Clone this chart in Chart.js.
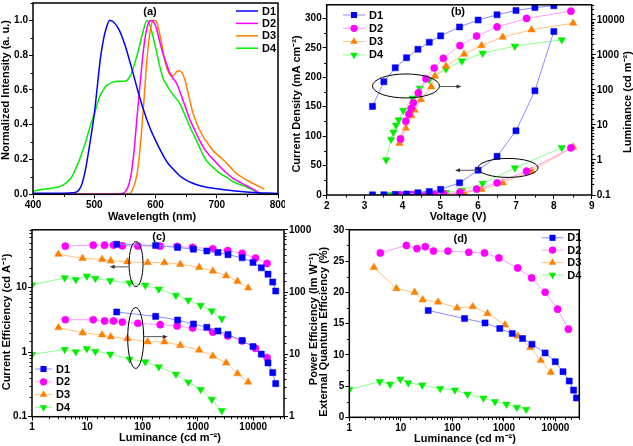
<!DOCTYPE html>
<html>
<head>
<meta charset="utf-8">
<script src="https://cdn.jsdelivr.net/npm/chart.js@4.4.1/dist/chart.umd.min.js"></script>
<style>
  html, body { margin: 0; padding: 0; background: #fff; }
  body { position: relative; width: 633px; height: 446px; overflow: hidden; }
  canvas { position: absolute; }
</style>
</head>
<body>
<canvas id="graficaA" width="285" height="225" style="left:0px;top:0px"></canvas>
<canvas id="graficaB" width="353" height="225" style="left:280px;top:0px"></canvas>
<canvas id="graficaC" width="322" height="221" style="left:0px;top:225px"></canvas>
<canvas id="graficaD" width="318" height="221" style="left:315px;top:225px"></canvas>
<script>
// ---- (a) espectros EL normalizados ----
const wlD1 = [400,420,440,460,470,475,480,485,490,495,500,505,510,515,520,525,530,540,550,560,570,580,590,600,610,620,630,640,650,660,670,680,690,700,720,740,760,780,800];
const intD1 = [0.006,0.006,0.006,0.008,0.012,0.025,0.06,0.13,0.23,0.34,0.46,0.62,0.78,0.89,0.96,1.0,0.995,0.95,0.86,0.74,0.61,0.49,0.39,0.31,0.24,0.18,0.14,0.105,0.082,0.065,0.052,0.043,0.037,0.032,0.023,0.016,0.011,0.007,0.005];
const wlD2 = [400,500,540,545,550,555,560,565,570,575,580,585,590,593,597,601,606,612,618,623,628,634,640,645,650,656,664,672,680,689,697,705,715,727,735,743,751,759,765,770,775];
const intD2 = [0,0,0,0.005,0.012,0.04,0.11,0.25,0.45,0.64,0.82,0.94,0.995,1.0,0.99,0.96,0.89,0.81,0.75,0.70,0.67,0.64,0.59,0.54,0.49,0.43,0.37,0.31,0.26,0.22,0.19,0.16,0.125,0.09,0.075,0.06,0.045,0.03,0.018,0.008,0.003];
const wlD3 = [400,550,558,563,569,573,577,581,585,589,593,596,600,603,607,611,615,619,623,627,631,635,639,643,648,652,656,661,667,672,678,686,694,702,710,720,732,743,754,765,778];
const intD3 = [0,0,0.003,0.03,0.10,0.2,0.35,0.53,0.73,0.88,0.97,1.0,1.0,0.98,0.92,0.85,0.77,0.72,0.69,0.68,0.69,0.705,0.71,0.7,0.66,0.6,0.54,0.47,0.41,0.37,0.33,0.29,0.25,0.225,0.2,0.165,0.12,0.095,0.072,0.052,0.03];
const wlD4 = [400,410,420,430,440,450,460,465,470,475,480,485,490,495,500,505,510,515,520,530,540,550,555,560,565,570,575,580,586,590,595,601,606,612,618,623,628,634,640,645,650,656,664,672,680,689,697,705,715,727,735,743,751,759,765,770,780];
const intD4 = [0.018,0.025,0.03,0.035,0.04,0.055,0.085,0.11,0.15,0.19,0.24,0.29,0.35,0.41,0.46,0.52,0.57,0.6,0.625,0.645,0.65,0.65,0.66,0.69,0.74,0.8,0.87,0.94,1.0,0.98,0.92,0.83,0.75,0.67,0.63,0.6,0.575,0.55,0.52,0.48,0.44,0.39,0.33,0.27,0.21,0.17,0.145,0.12,0.1,0.072,0.06,0.05,0.038,0.025,0.012,0.005,0.002];

// ---- (b) J-V-L ----
const vD1 = [3.21,3.51,3.81,4.11,4.41,4.71,5.01,5.51,6.0,6.5,7.0,7.5,8.0];
const jD1 = [0.2,0.5,1,1.7,3.9,6,9.5,20.7,42,65.6,109,177,277.6];
const vD2 = [3.95,4.09,4.17,4.23,4.29,4.42,4.62,4.84,5.08,5.52,5.96,6.5,7.28,8.45];
const jD2 = [0.1,0.15,0.2,0.25,0.3,0.5,0.8,1.2,2,4.5,10,20.7,40.4,80];
const vD3 = [3.92,4.09,4.24,4.32,4.49,4.76,4.86,5.15,5.63,6.09,6.65,7.41,8.51];
const jD3 = [0.1,0.15,0.2,0.25,0.35,0.5,0.7,1.5,3.9,9.5,20.7,40.9,81.3];
const vD4 = [3.57,3.70,3.76,3.83,3.90,4.02,4.27,4.46,4.71,5.15,5.57,6.12,6.97,8.21];
const jD4 = [0.1,0.15,0.2,0.25,0.3,0.4,0.8,1.2,2,4,8,19.6,46,80.5];

// luminancia de cada dispositivo (cd m-2), la misma en (b), (c) y (d)
const lumD1 = [34,172,430,830,1450,2300,3500,6300,9900,14000,18500,22500,25500];
const lumD2 = [4,12.8,20.5,29.8,43,82,208,420,800,1850,3450,6300,11000,17800];
const lumD3 = [3,8.2,18.5,26.5,53,123,248,480,1050,1860,3240,5200,8100];
const lumD4 = [1,3.9,6.2,9.8,14,26,58,112,196,400,670,1120,1780,2700];

// ---- (c) eficiencia de corriente (cd A-1) y de potencia (lm W-1) ----
const ceD1 = [47,45,42,39.5,37,35,32.5,29,24.6,20.3,16.2,12.2,8.85];
const ceD2 = [44,45.5,45.5,45.5,44.4,44.2,44,43.5,42,40,37.5,34,28.7,23.7];
const ceD3 = [33,28.5,27.5,26,25.2,24.5,24.4,23,20.6,18.1,15.3,12.5,9.9];
const ceD4 = [11,14.2,13.3,15.1,13.9,12.8,11.8,10.9,9.5,7.6,6.4,5.3,4.35,3.3];
const peD1 = [47.9,40.8,35.6,30.8,27.2,23.8,20.8,16.7,13.4,10.1,7.3,5.1,3.4];
const peD2 = [36,36,34.4,34.4,33,31.6,30,28.6,26.5,22.8,19.8,16.5,12.5,8.9];
const peD3 = [26.9,22.2,20.6,19.2,17.9,15.9,15.9,14.0,11.7,9.4,7.3,4.9,3.6];
const peD4 = [10,12,11,12.4,11.2,10.1,8.4,7.6,6.3,4.8,3.6,2.74,1.9,1.25];

// ---- (d) EQE (%) ----
const eqeD1 = [17.1,15.8,15.1,14.2,13.4,12.6,11.7,10.3,8.9,7.3,5.8,4.35,3.1];
const eqeD2 = [26.3,27.5,27.0,27.3,26.6,26.6,26.4,26.3,25.5,23.9,22.3,20.0,17.3,14.1];
const eqeD3 = [24.0,20.6,20.0,18.8,18.45,17.5,17.7,16.6,14.8,13.0,11.2,9.1,7.2];
const eqeD4 = [4.47,5.7,5.3,6.1,5.5,5.15,4.6,4.36,3.7,3.08,2.5,2.1,1.6,1.28];

const etiquetas = ['D1','D2','D3','D4'];

const FONT = '"Liberation Sans", Arial, Helvetica, sans-serif';
Chart.defaults.font.family = FONT;
Chart.defaults.font.size = 10;
Chart.defaults.font.weight = 'bold';
Chart.defaults.color = '#000';

const fuerte = ['#0000ff', '#ff00ff', '#ff8000', '#00ee00'];
const suave = ['#8c8cff', '#ff9cff', '#ffc080', '#8cff8c'];
const forma = [
  { s: 'rect', r: 4.3, rot: 0 },
  { s: 'circle', r: 3.6, rot: 0 },
  { s: 'triangle', r: 4.3, rot: 0 },
  { s: 'triangle', r: 4.3, rot: 180 }
];

const pts = (xs, ys) => xs.map((x, i) => ({ x: x, y: ys[i] }));

function serie(i, data, eje) {
  return {
    label: etiquetas[i], data: data, yAxisID: eje,
    borderColor: suave[i], borderWidth: 1, tension: 0,
    pointStyle: forma[i].s, pointRadius: forma[i].r, pointRotation: forma[i].rot,
    pointBackgroundColor: fuerte[i], pointBorderColor: fuerte[i], pointBorderWidth: 0.5
  };
}

// ancho / alto fijo de cada eje para que el area del grafico caiga donde en la figura
const ancho = w => s => { s.width = w; s.paddingLeft = s.paddingRight = s.paddingTop = s.paddingBottom = 0; };
const alto = h => s => { s.height = h; s.paddingLeft = s.paddingRight = s.paddingTop = s.paddingBottom = 0; };
// marcas largas solo donde hay etiqueta; las cortas las pinta el plugin
const rejilla = () => ({
  drawOnChartArea: false, drawTicks: true, tickLength: 4, tickWidth: 1,
  tickColor: c => (c.tick && c.tick.label === '') ? 'rgba(0,0,0,0)' : '#000'
});
const potencia10 = v => {
  const e = Math.log10(v);
  return Math.abs(e - Math.round(e)) < 1e-6 ? String(+v.toPrecision(6)) : '';
};

function marcador(ctx, f, x, y) {
  ctx.beginPath();
  if (f.s === 'rect') {
    const h = f.r * Math.SQRT1_2;
    ctx.rect(x - h, y - h, 2 * h, 2 * h);
  } else if (f.s === 'circle') {
    ctx.arc(x, y, f.r, 0, 2 * Math.PI);
  } else {
    let a = f.rot * Math.PI / 180;
    ctx.moveTo(x + Math.sin(a) * f.r, y - Math.cos(a) * f.r);
    a += 2 * Math.PI / 3;
    ctx.lineTo(x + Math.sin(a) * f.r, y - Math.cos(a) * f.r);
    a += 2 * Math.PI / 3;
    ctx.lineTo(x + Math.sin(a) * f.r, y - Math.cos(a) * f.r);
    ctx.closePath();
  }
  ctx.fill();
}

// marco, marcas menores, titulos, elipses, flechas y leyenda
const adornos = {
  id: 'adornos',
  afterDatasetsDraw(chart, args, o) {
    const ctx = chart.ctx, a = chart.chartArea, X = chart.scales.x;
    ctx.save();
    ctx.strokeStyle = '#000';
    ctx.lineWidth = 1;
    Object.values(chart.scales).forEach(s => {
      s.ticks.forEach(t => {
        if (t.label !== '') return;
        const p = Math.round(s.getPixelForValue(t.value)) + 0.5;
        ctx.beginPath();
        if (s.axis === 'x') { ctx.moveTo(p, a.bottom); ctx.lineTo(p, a.bottom + 2.5); }
        else if (s.position === 'left') { ctx.moveTo(a.left, p); ctx.lineTo(a.left - 2.5, p); }
        else { ctx.moveTo(a.right, p); ctx.lineTo(a.right + 2.5, p); }
        ctx.stroke();
      });
    });
    ctx.lineWidth = 1.5;
    ctx.strokeRect(a.left, a.top, a.right - a.left, a.bottom - a.top);

    (o.elipses || []).forEach(e => {
      const Y = chart.scales[e.eje];
      ctx.beginPath();
      ctx.lineWidth = 1;
      ctx.strokeStyle = '#000';
      ctx.ellipse(X.getPixelForValue(e.x), Y.getPixelForValue(e.y), e.rx, e.ry, 0, 0, 2 * Math.PI);
      ctx.stroke();
    });
    (o.flechas || []).forEach(f => {
      const Y = chart.scales[f.eje];
      const x1 = X.getPixelForValue(f.x1), x2 = X.getPixelForValue(f.x2), y = Y.getPixelForValue(f.y);
      const d = Math.sign(x2 - x1);
      ctx.strokeStyle = '#555';
      ctx.fillStyle = '#333';
      ctx.lineWidth = 1;
      ctx.beginPath(); ctx.moveTo(x1, y); ctx.lineTo(x2 - 3 * d, y); ctx.stroke();
      ctx.beginPath(); ctx.moveTo(x2, y); ctx.lineTo(x2 - 5 * d, y - 2); ctx.lineTo(x2 - 5 * d, y + 2); ctx.closePath(); ctx.fill();
    });

    ctx.fillStyle = '#000';
    ctx.textAlign = 'center';
    ctx.textBaseline = 'middle';
    (o.textos || []).forEach(t => {
      ctx.save();
      ctx.translate(t.x, t.y);
      ctx.rotate((t.rot || 0) * Math.PI / 180);
      ctx.font = 'bold ' + (t.size || 11) + 'px ' + FONT;
      ctx.fillText(t.t, 0, 0);
      ctx.restore();
    });

    const g = o.leyenda;
    if (g) {
      ctx.font = 'bold 11px ' + FONT;
      ctx.textAlign = 'left';
      for (let i = 0; i < 4; i++) {
        const ds = chart.data.datasets[i];
        const y = g.y + i * g.fila;
        ctx.strokeStyle = ds.borderColor;
        ctx.lineWidth = ds.borderWidth;
        ctx.beginPath(); ctx.moveTo(g.x, y); ctx.lineTo(g.x + g.largo, y); ctx.stroke();
        if (ds.pointRadius > 0) {
          ctx.fillStyle = fuerte[i];
          marcador(ctx, forma[i], g.x + g.largo / 2, y);
        }
        ctx.fillStyle = '#000';
        ctx.fillText(ds.label, g.x + g.largo + 4, y + 0.5);
      }
    }
    ctx.restore();
  }
};

const base = { responsive: false, animation: false, events: [] };

// (a)
new Chart(document.getElementById('graficaA'), {
  type: 'line',
  data: {
    datasets: [
      { label: 'D1', data: pts(wlD1, intD1) },
      { label: 'D2', data: pts(wlD2, intD2) },
      { label: 'D3', data: pts(wlD3, intD3) },
      { label: 'D4', data: pts(wlD4, intD4) }
    ].map((d, i) => Object.assign(d, {
      borderColor: fuerte[i], borderWidth: 1.5, pointRadius: 0, cubicInterpolationMode: 'monotone'
    }))
  },
  options: Object.assign({}, base, {
    layout: { padding: { left: 0, right: 7, top: 3, bottom: 0 } },
    plugins: {
      legend: { display: false }, tooltip: { enabled: false },
      adornos: {
        textos: [
          { t: '(a)', x: 150, y: 11.5 },
          { t: 'Normalized Intensity (a. u.)', x: 6, y: 90, rot: -90 },
          { t: 'Wavelength (nm)', x: 152, y: 216.5 }
        ],
        leyenda: { x: 236, y: 11, fila: 12.4, largo: 22 }
      }
    },
    scales: {
      x: { type: 'linear', min: 400, max: 800, afterFit: alto(30.7), grid: rejilla(), border: { display: false },
           ticks: { stepSize: 50, maxTicksLimit: 100, autoSkip: false, maxRotation: 0, padding: 1,
                    callback: v => v % 100 === 0 ? v : '' } },
      y: { type: 'linear', min: 0, max: 1.1, afterFit: ancho(33), grid: rejilla(), border: { display: false },
           ticks: { stepSize: 0.1, maxTicksLimit: 100, autoSkip: false, padding: 1,
                    callback: v => Math.round(v * 10) % 2 === 0 ? v.toFixed(1) : '' } }
    }
  }),
  plugins: [adornos]
});

// (b)
new Chart(document.getElementById('graficaB'), {
  type: 'line',
  data: {
    datasets: [
      serie(0, pts(vD1, jD1), 'y'), serie(1, pts(vD2, jD2), 'y'),
      serie(2, pts(vD3, jD3), 'y'), serie(3, pts(vD4, jD4), 'y'),
      serie(0, pts(vD1, lumD1), 'y1'), serie(1, pts(vD2, lumD2), 'y1'),
      serie(2, pts(vD3, lumD3), 'y1'), serie(3, pts(vD4, lumD4), 'y1')
    ]
  },
  options: Object.assign({}, base, {
    layout: { padding: { left: 0, right: 0, top: 3, bottom: 0 } },
    plugins: {
      legend: { display: false }, tooltip: { enabled: false },
      adornos: {
        textos: [
          { t: '(b)', x: 178, y: 11.7 },
          { t: 'Current Density (mA cm\u207B\u00B2)', x: 16.7, y: 104, rot: -90 },
          { t: 'Luminance (cd m\u207B\u00B2)', x: 348, y: 102, rot: -90 },
          { t: 'Voltage (V)', x: 178, y: 216.5 }
        ],
        leyenda: { x: 63, y: 15, fila: 13.3, largo: 22 },
        elipses: [
          { x: 4.095, y: 130, eje: 'y1', rx: 33.5, ry: 12 },
          { x: 6.79, y: 46, eje: 'y', rx: 30, ry: 9.5 }
        ],
        flechas: [
          { x1: 4.98, x2: 5.56, y: 125, eje: 'y1' },
          { x1: 6.0, x2: 5.39, y: 42, eje: 'y' }
        ]
      }
    },
    scales: {
      x: { type: 'linear', min: 2, max: 9, afterFit: alto(30), grid: rejilla(), border: { display: false },
           ticks: { stepSize: 0.5, maxTicksLimit: 100, autoSkip: false, maxRotation: 0, padding: 1,
                    callback: v => Number.isInteger(v) ? v : '' } },
      y: { type: 'linear', position: 'left', min: 0, max: 323, afterFit: ancho(46.7), grid: rejilla(), border: { display: false },
           ticks: { stepSize: 25, maxTicksLimit: 100, autoSkip: false, includeBounds: false, padding: 1,
                    callback: v => v % 50 === 0 ? v : '' } },
      y1: { type: 'logarithmic', position: 'right', min: 0.1, max: 27000, afterFit: ancho(41.3), grid: rejilla(), border: { display: false },
            ticks: { autoSkip: false, padding: 1, callback: potencia10 } }
    }
  }),
  plugins: [adornos]
});

// (c)
new Chart(document.getElementById('graficaC'), {
  type: 'line',
  data: {
    datasets: [
      serie(0, pts(lumD1, ceD1), 'y'), serie(1, pts(lumD2, ceD2), 'y'),
      serie(2, pts(lumD3, ceD3), 'y'), serie(3, pts(lumD4, ceD4), 'y'),
      serie(0, pts(lumD1, peD1), 'y1'), serie(1, pts(lumD2, peD2), 'y1'),
      serie(2, pts(lumD3, peD3), 'y1'), serie(3, pts(lumD4, peD4), 'y1')
    ]
  },
  options: Object.assign({}, base, {
    layout: { padding: { left: 0, right: 0, top: 4.3, bottom: 0 } },
    plugins: {
      legend: { display: false }, tooltip: { enabled: false },
      adornos: {
        textos: [
          { t: '(c)', x: 159, y: 11.5 },
          { t: 'Current Efficiency (cd A\u207B\u00B9)', x: 6.7, y: 97, rot: -90 },
          { t: 'Power Efficiency (lm W\u207B\u00B9)', x: 313.5, y: 94, rot: -90 },
          { t: 'Luminance (cd m\u207B\u00B2)', x: 170, y: 213 }
        ],
        leyenda: { x: 35, y: 144, fila: 12.8, largo: 17 },
        elipses: [
          { x: 76, y: 23.2, eje: 'y', rx: 7, ry: 22.5 },
          { x: 75, y: 1.66, eje: 'y', rx: 8, ry: 30.5 }
        ],
        flechas: [
          { x1: 56, x2: 25.4, y: 21, eje: 'y' },
          { x1: 105, x2: 285, y: 1.74, eje: 'y' }
        ]
      }
    },
    scales: {
      x: { type: 'logarithmic', min: 1, max: 36000, afterFit: alto(29.3), grid: rejilla(), border: { display: false },
           ticks: { autoSkip: false, maxRotation: 0, padding: 1, callback: potencia10 } },
      y: { type: 'logarithmic', position: 'left', min: 0.1, max: 78.8, afterFit: ancho(32), grid: rejilla(), border: { display: false },
           ticks: { autoSkip: false, padding: 1, callback: potencia10 } },
      y1: { type: 'logarithmic', position: 'right', min: 1, max: 1000, afterFit: ancho(38), grid: rejilla(), border: { display: false },
            ticks: { autoSkip: false, padding: 1, callback: potencia10 } }
    }
  }),
  plugins: [adornos]
});

// (d)
new Chart(document.getElementById('graficaD'), {
  type: 'line',
  data: {
    datasets: [
      serie(0, pts(lumD1, eqeD1), 'y'), serie(1, pts(lumD2, eqeD2), 'y'),
      serie(2, pts(lumD3, eqeD3), 'y'), serie(3, pts(lumD4, eqeD4), 'y')
    ]
  },
  options: Object.assign({}, base, {
    layout: { padding: { left: 0, right: 53.7, top: 4.3, bottom: 0 } },
    plugins: {
      legend: { display: false }, tooltip: { enabled: false },
      adornos: {
        textos: [
          { t: '(d)', x: 145.5, y: 14.2 },
          { t: 'External Quantum Efficiency (%)', x: 8.5, y: 106.7, rot: -90 },
          { t: 'Luminance (cd m\u207B\u00B2)', x: 150, y: 214 }
        ],
        leyenda: { x: 226.7, y: 12.8, fila: 12.4, largo: 21.6 }
      }
    },
    scales: {
      x: { type: 'logarithmic', min: 1, max: 29000, afterFit: alto(28.7), grid: rejilla(), border: { display: false },
           ticks: { autoSkip: false, maxRotation: 0, padding: 1, callback: potencia10 } },
      y: { type: 'linear', min: 0, max: 30, afterFit: ancho(34.3), grid: rejilla(), border: { display: false },
           ticks: { stepSize: 2.5, maxTicksLimit: 100, autoSkip: false, padding: 1,
                    callback: v => v % 5 === 0 ? v : '' } }
    }
  }),
  plugins: [adornos]
});
</script>
</body>
</html>
